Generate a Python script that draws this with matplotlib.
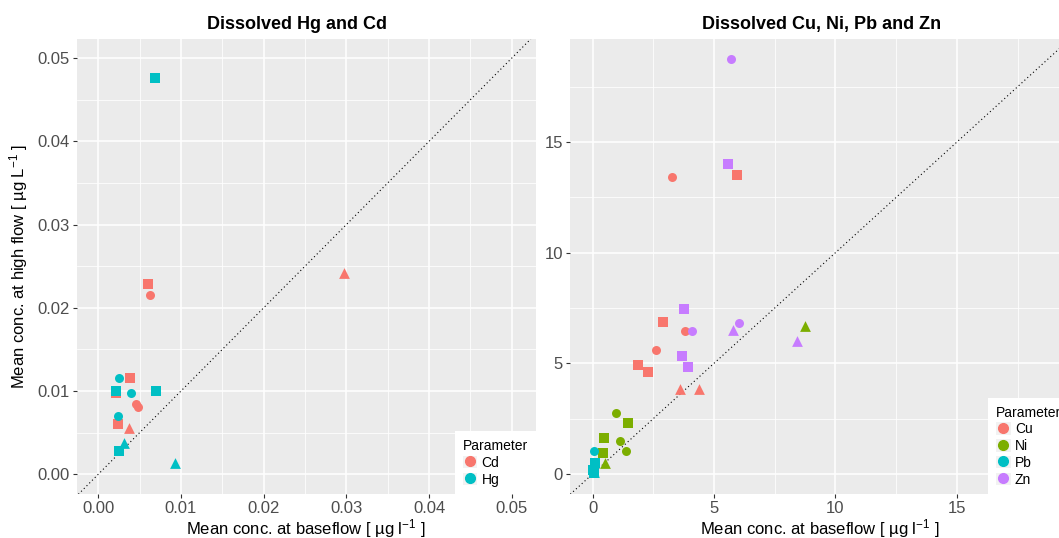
import matplotlib.pyplot as plt
from matplotlib.lines import Line2D
from matplotlib.patches import Rectangle
from matplotlib.legend_handler import HandlerTuple
from matplotlib.ticker import MultipleLocator

plt.rcParams['font.family'] = ['Liberation Sans', 'DejaVu Sans']
plt.rcParams['mathtext.fontset'] = 'custom'
plt.rcParams['mathtext.rm'] = 'Liberation Sans'
plt.rcParams['mathtext.it'] = 'Liberation Sans:italic'
plt.rcParams['mathtext.default'] = 'regular'

# --- left panel: dissolved Hg and Cd (ug/l) ---
hgcd_param = ['Cd'] * 9 + ['Hg'] * 9
hgcd_shape = ['circle', 'circle', 'circle', 'square', 'square', 'square', 'square', 'triangle', 'triangle',
              'circle', 'circle', 'circle', 'square', 'square', 'square', 'square', 'triangle', 'triangle']
hgcd_base = [0.00625, 0.00452, 0.00476, 0.00605, 0.00387, 0.0021, 0.00242, 0.00375, 0.0297,
             0.00247, 0.00399, 0.00242, 0.0021, 0.00694, 0.00254, 0.00686, 0.00314, 0.00931]
hgcd_high = [0.02155, 0.00845, 0.00805, 0.02287, 0.01157, 0.0098, 0.00605, 0.0056, 0.0242,
             0.01157, 0.00974, 0.00704, 0.01005, 0.01005, 0.00276, 0.04763, 0.0038, 0.0014]

# --- right panel: dissolved Cu, Ni, Pb and Zn (ug/l) ---
metal_param = ['Cu'] * 9 + ['Ni'] * 8 + ['Pb'] * 5 + ['Zn'] * 9
metal_shape = ['circle', 'circle', 'circle', 'square', 'square', 'square', 'square', 'triangle', 'triangle',
               'circle', 'circle', 'circle', 'square', 'square', 'square', 'triangle', 'triangle',
               'circle', 'square', 'square', 'square', 'triangle',
               'circle', 'circle', 'circle', 'square', 'square', 'square', 'square', 'triangle', 'triangle']
metal_base = [3.29, 3.79, 2.63, 5.93, 2.88, 1.89, 2.30, 3.62, 4.39,
              0.95, 1.11, 1.36, 1.44, 0.45, 0.43, 0.53, 8.75,
              0.04, 0.08, 0.02, 0.05, 0.05,
              5.68, 4.10, 6.05, 5.56, 3.745, 3.70, 3.95, 5.80, 8.40]
metal_high = [13.42, 6.45, 5.59, 13.5, 6.85, 4.91, 4.60, 3.83, 3.83,
              2.74, 1.49, 1.04, 2.29, 1.61, 0.93, 0.48, 6.69,
              1.04, 0.50, 0.20, 0.05, 0.10,
              18.77, 6.45, 6.81, 14.0, 7.44, 5.32, 4.82, 6.51, 6.02]

hue2 = {'Cd': '#F8766D', 'Hg': '#00BFC4'}
hue4 = {'Cu': '#F8766D', 'Ni': '#7CAE00', 'Pb': '#00BFC4', 'Zn': '#C77CFF'}
markers = {'circle': ('o', 42), 'square': ('s', 45), 'triangle': ('^', 60)}

W, H = 1059, 538
fig = plt.figure(figsize=(W / 100, H / 100), dpi=100)


def px_axes(x0, x1, y0, y1):
    return fig.add_axes([x0 / W, 1 - y1 / H, (x1 - x0) / W, (y1 - y0) / H])


def style(ax, major, minor):
    ax.set_facecolor('#EBEBEB')
    for s in ax.spines.values():
        s.set_visible(False)
    for a in (ax.xaxis, ax.yaxis):
        a.set_major_locator(MultipleLocator(major))
        a.set_minor_locator(MultipleLocator(minor))
    ax.grid(which='major', color='white', lw=1.1)
    ax.grid(which='minor', color='white', lw=0.55)
    ax.set_axisbelow(True)
    ax.tick_params(which='major', length=3, width=0.8, color='#333333',
                   labelcolor='#4D4D4D', labelsize=12, pad=2)
    ax.tick_params(which='minor', length=0)
    ax.axline((0, 0), slope=1, color='black', lw=0.8, ls=(0, (1, 2.5)), zorder=1.5)


def draw(ax, params, shapes, xs, ys, palette):
    for p in palette:
        for shp, (m, s) in markers.items():
            idx = [i for i in range(len(params)) if params[i] == p and shapes[i] == shp]
            if not idx:
                continue
            ax.scatter([xs[i] for i in idx], [ys[i] for i in idx], marker=m, s=s,
                       color=palette[p], linewidths=0, zorder=3)


def legend(ax, palette):
    handles = [(Rectangle((0, 0), 1, 1, facecolor='#F2F2F2', edgecolor='none'),
                Line2D([], [], marker='o', ls='none', color=c, markersize=7))
               for c in palette.values()]
    ax.legend(handles, list(palette.keys()), title='Parameter', loc='lower right',
              borderaxespad=0, frameon=True, fancybox=False, facecolor='white',
              edgecolor='none', framealpha=1, handlelength=1.05, handleheight=1.0,
              handletextpad=0.3, labelspacing=0.2, borderpad=0.55, fontsize=10,
              title_fontsize=10, alignment='left',
              handler_map={tuple: HandlerTuple(ndivide=1, pad=0)})


def xlabel(ax, text):
    ax.set_xlabel(text, fontsize=12, va='baseline')
    ax.xaxis.set_label_coords(0.5, -40.0 / 455.3)


xlab = 'Mean conc. at baseflow [ µg l$^{-1}$ ]'

ax1 = px_axes(76.7, 535.7, 39, 494.3)
style(ax1, 0.01, 0.005)
draw(ax1, hgcd_param, hgcd_shape, hgcd_base, hgcd_high, hue2)
ax1.set_xlim(-0.0026, 0.0529)
ax1.set_ylim(-0.0024, 0.0523)
ax1.xaxis.set_major_formatter(lambda v, pos: f'{v:.2f}')
ax1.yaxis.set_major_formatter(lambda v, pos: f'{v:.2f}')
xlabel(ax1, xlab)
ax1.set_ylabel('Mean conc. at high flow [ µg L$^{-1}$ ]', fontsize=12, va='center')
ax1.yaxis.set_label_coords((19.0 - 76.7) / 459.0, 0.5)
ax1.text(0.479, 1.0 + 9.5 / 455, 'Dissolved Hg and Cd', transform=ax1.transAxes,
         ha='center', va='baseline', fontsize=13, fontweight='bold')
legend(ax1, hue2)

ax2 = px_axes(570, 1069, 39, 494.3)
style(ax2, 5, 2.5)
draw(ax2, metal_param, metal_shape, metal_base, metal_high, hue4)
ax2.set_xlim(-0.93, 19.62)
ax2.set_ylim(-0.92, 19.66)
xlabel(ax2, xlab)
ax2.text(0.504, 1.0 + 9.5 / 455, 'Dissolved Cu, Ni, Pb and Zn', transform=ax2.transAxes,
         ha='center', va='baseline', fontsize=13, fontweight='bold')
legend(ax2, hue4)

fig.savefig('out.png', dpi=100)
